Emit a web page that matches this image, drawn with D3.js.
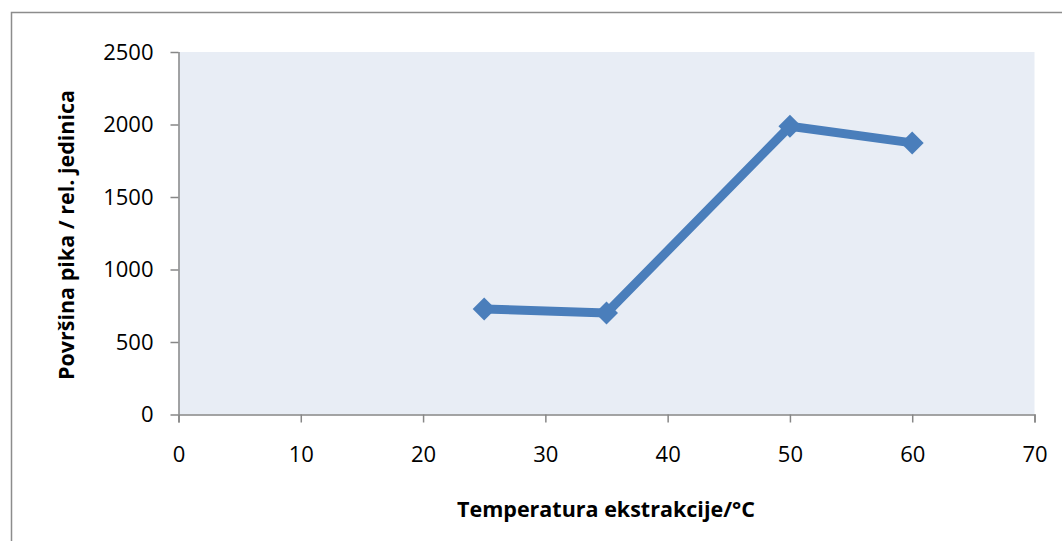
<!DOCTYPE html>
<html><head><meta charset="utf-8">
<script src="https://cdn.jsdelivr.net/npm/d3@7"></script>
<style>html,body{margin:0;padding:0;background:#fff;}svg{display:block;}</style>
</head><body>
<svg id="c" width="1062" height="541"></svg>
<script>
const temperatures = [25, 35, 50, 60];
const peakAreas = [728, 700, 1988, 1873];
const xTicks = [0, 10, 20, 30, 40, 50, 60, 70];
const yTicks = [0, 500, 1000, 1500, 2000, 2500];
const xTitle = "Temperatura ekstrakcije/°C";
const yTitle = "Površina pika / rel. jedinica";

const svg = d3.select("#c");
const W = 1062, H = 541;
const m = {left: 178.5, right: 1034.5, top: 52, bottom: 414.5};
const font = "'Open Sans', 'Noto Sans', sans-serif";

// outer chart border (cropped right/bottom)
svg.append("path").attr("d", `M11.5,${H} L11.5,12.5 L${W},12.5`)
  .attr("fill", "none").attr("stroke", "#8c8c8c").attr("stroke-width", 1.5);

const x = d3.scaleLinear().domain([0, 70]).range([m.left, m.right]);
const y = d3.scaleLinear().domain([0, 2500]).range([m.bottom, m.top]);

svg.append("rect").attr("x", m.left).attr("y", m.top)
  .attr("width", m.right - m.left).attr("height", m.bottom - m.top)
  .attr("fill", "#e8edf5");

const fmt = d3.format("d");
const xAxis = svg.append("g").attr("transform", `translate(0,${m.bottom})`)
  .call(d3.axisBottom(x).tickValues(xTicks).tickFormat(fmt).tickSize(8).tickSizeOuter(8).tickPadding(24));
const yAxis = svg.append("g").attr("transform", `translate(${m.left},0)`)
  .call(d3.axisLeft(y).tickValues(yTicks).tickFormat(fmt).tickSize(8).tickSizeOuter(0).tickPadding(17));
[xAxis, yAxis].forEach(a => {
  a.selectAll("path,line").attr("stroke", "#878787").attr("stroke-width", 1.5);
  a.selectAll("text").attr("fill", "#000").style("font-family", font).style("font-size", "22px");
});
yAxis.select(".domain").attr("d", `M0.5,${m.bottom} V${m.top}`);

const line = d3.line().x((d, i) => x(temperatures[i])).y(d => y(d));
svg.append("path").datum(peakAreas).attr("d", line)
  .attr("fill", "none").attr("stroke", "#4a7ebb").attr("stroke-width", 9)
  .attr("stroke-linejoin", "round");

svg.selectAll(".mk").data(peakAreas).enter().append("path")
  .attr("transform", (d, i) => `translate(${x(temperatures[i])},${y(d)})`)
  .attr("d", "M0,-11.5 L11.5,0 L0,11.5 L-11.5,0Z")
  .attr("fill", "#4a7ebb");

svg.append("text").attr("x", 606).attr("y", 517).attr("text-anchor", "middle")
  .style("font-family", font).style("font-size", "21.5px").style("font-weight", "bold")
  .text(xTitle);
svg.append("text").attr("transform", "translate(74,235) rotate(-90)").attr("text-anchor", "middle")
  .style("font-family", font).style("font-size", "21.5px").style("font-weight", "bold")
  .text(yTitle);
</script>
</body></html>
